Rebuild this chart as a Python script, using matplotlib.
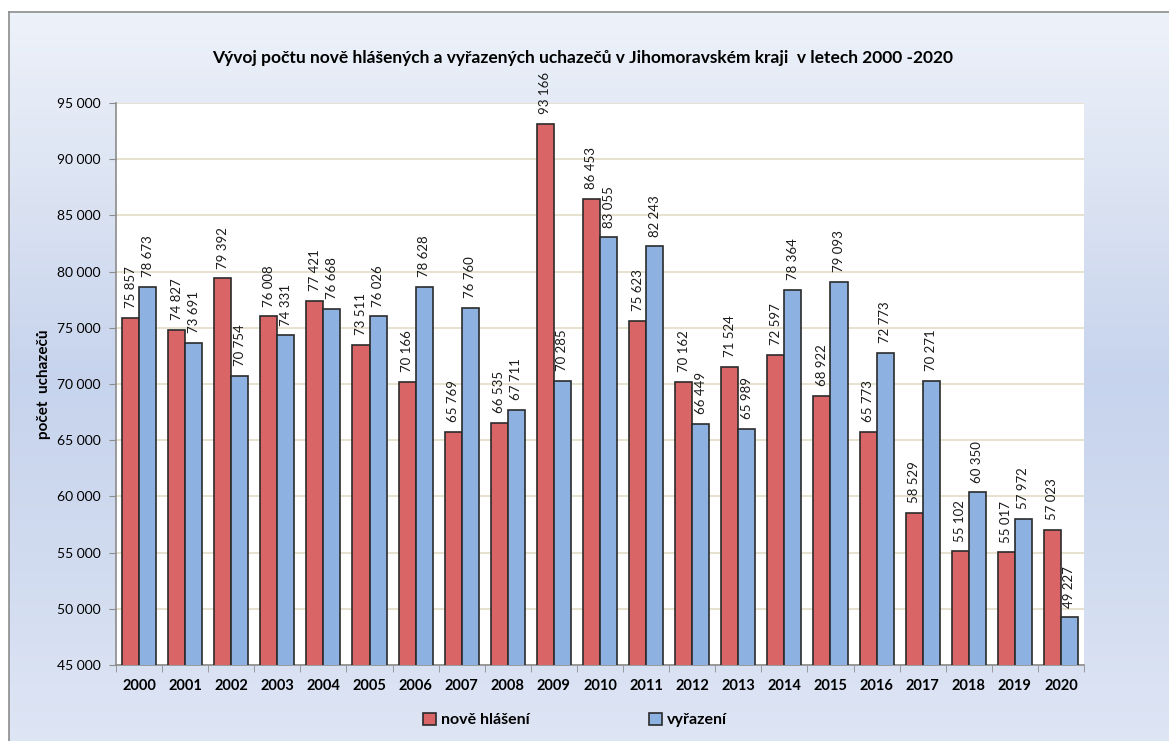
import matplotlib
matplotlib.use("Agg")
import matplotlib.pyplot as plt
import numpy as np

plt.rcParams['font.family'] = ['Lato', 'DejaVu Sans']

# ------ data ------------------------------------------------------------------
years = ["2000", "2001", "2002", "2003", "2004", "2005", "2006", "2007", "2008", "2009",
         "2010", "2011", "2012", "2013", "2014", "2015", "2016", "2017", "2018", "2019", "2020"]
nove_hlaseni = [75857, 74827, 79392, 76008, 77421, 73511, 70166, 65769, 66535, 93166,
                86453, 75623, 70162, 71524, 72597, 68922, 65773, 58529, 55102, 55017, 57023]
vyrazeni = [78673, 73691, 70754, 74331, 76668, 76026, 78628, 76760, 67711, 70285,
            83055, 82243, 66449, 65989, 78364, 79093, 72773, 70271, 60350, 57972, 49227]
yticks = np.arange(45000, 95001, 5000)

W, H = 1169, 741
fig = plt.figure(figsize=(W / 100, H / 100), dpi=100)
fig.patch.set_facecolor("white")

# background gradient with frame
bg = fig.add_axes([9 / W, 0, 1 - 9 / W, 1 - 12 / H], zorder=-5)
grad = np.array([[0.93, 0.95, 0.98], [0.86, 0.89, 0.95], [0.78, 0.83, 0.93],
                 [0.82, 0.86, 0.94], [0.87, 0.90, 0.96]])
pos = np.linspace(0, 1, len(grad))
yy = np.linspace(0, 1, 300)
img = np.stack([np.interp(yy, pos, grad[:, c]) for c in range(3)], axis=-1)[:, None, :]
bg.imshow(img, aspect="auto", extent=[0, 1, 1, 0])
bg.set_xlim(0, 1)
bg.set_ylim(1, 0)
bg.set_xticks([])
bg.set_yticks([])
for s in ["right", "bottom"]:
    bg.spines[s].set_visible(False)
for s in ["left", "top"]:
    bg.spines[s].set_color("#8c8c8c")
    bg.spines[s].set_linewidth(1.2)

ax = fig.add_axes([116 / W, 1 - 665 / H, (1084 - 116) / W, (665 - 103) / H])
ax.set_facecolor("white")

x = np.arange(len(years))
w = 0.37
red = "#d96566"
blue = "#8db2e2"
b1 = ax.bar(x - w / 2, nove_hlaseni, w, color=red, edgecolor="#2b2b2b", linewidth=1.2,
            label="nově hlášení", zorder=3)
b2 = ax.bar(x + w / 2, vyrazeni, w, color=blue, edgecolor="#2b2b2b", linewidth=1.2,
            label="vyřazení", zorder=3)

def fmt(v):
    return "{:,}".format(v).replace(",", " ")

# value labels above bars, rotated
for xs, vals in [(x - w / 2, nove_hlaseni), (x + w / 2, vyrazeni)]:
    for xi, v in zip(xs, vals):
        ax.annotate(fmt(v), (xi, v), xytext=(0, 7), textcoords="offset points",
                    rotation=90, ha="center", va="bottom", fontsize=9.5,
                    color="#1a1a1a", annotation_clip=False, zorder=5)

ax.set_ylim(45000, 95000)
ax.set_xlim(-0.5, len(years) - 0.5)
ax.set_yticks(yticks)
ax.set_yticklabels([fmt(t) for t in yticks], fontsize=10)
ax.yaxis.grid(True, color="#e3dcc6", linewidth=1.2, zorder=0)
ax.set_axisbelow(True)

ax.set_xticks(x)
ax.set_xticklabels(years, fontsize=10.5, fontweight="bold")
ax.set_xticks(np.arange(-0.5, len(years)), minor=True)
ax.tick_params(axis="x", which="major", length=0, pad=10)
ax.tick_params(axis="x", which="minor", length=5, color="#8c8c8c")
ax.tick_params(axis="y", length=5, color="#8c8c8c", pad=6)

for s in ["top", "right"]:
    ax.spines[s].set_visible(False)
for s in ["left", "bottom"]:
    ax.spines[s].set_color("#8c8c8c")
    ax.spines[s].set_linewidth(1.2)

ax.set_ylabel("počet  uchazečů", fontsize=11, fontweight="bold", labelpad=4)

fig.text(583 / W, 1 - 58 / H,
         "Vývoj počtu nově hlášených a vyřazených uchazečů v Jihomoravském kraji  v letech 2000 -2020",
         ha="center", va="center", fontsize=12.5, fontweight="bold")

leg = fig.legend(handles=[b1, b2], loc="center", bbox_to_anchor=(575 / W, 1 - 720 / H),
                 ncol=2, frameon=False, fontsize=11.5, handlelength=0.8, handleheight=0.8,
                 columnspacing=7.5, handletextpad=0.3)
for t in leg.get_texts():
    t.set_fontweight("bold")

fig.savefig("out.png", dpi=100)
